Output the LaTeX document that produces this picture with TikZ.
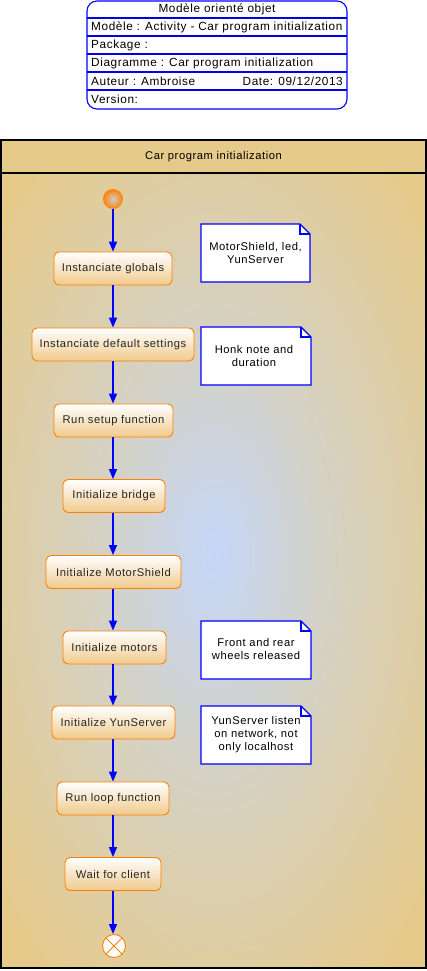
\documentclass[tikz,border=0pt]{standalone}
\usepackage{fontspec}
\setmainfont{Liberation Sans}[LetterSpace=5]
\usetikzlibrary{arrows.meta,shapes.misc}
\definecolor{tanc}{RGB}{230,202,138}
\definecolor{bgblue}{RGB}{196,214,248}
\definecolor{bgmid}{RGB}{212,210,198}
\definecolor{actorange}{RGB}{255,128,0}
\definecolor{actbot}{RGB}{240,202,140}
\definecolor{flowblue}{RGB}{0,0,255}
\definecolor{rowline}{RGB}{0,0,230}
\pgfdeclareradialshading{bgshade}{\pgfpoint{0bp}{1bp}}{color(0bp)=(bgblue); color(13bp)=(bgmid); color(33bp)=(tanc); color(75bp)=(tanc)}
\tikzset{
  act/.style={draw=actorange, line width=0.9pt, rounded corners=5pt, top color=white, bottom color=actbot, minimum height=33pt, inner sep=0pt, font=\fontsize{11.2}{13}\selectfont, text=black!85},
  flow/.style={draw=flowblue, fill=flowblue, line width=1.4pt, -{Triangle[length=10pt,width=8pt]}},
  notetxt/.style={font=\fontsize{11.2}{13}\selectfont, align=center, inner sep=0pt},
  hdr/.style={font=\fontsize{11.8}{13}\selectfont, inner sep=0pt},
}
\newcommand{\notebox}[5]{% name, x1, y1, x2, y2
  \draw[flowblue, fill=white, line width=1.1pt] (#2,#3) -- (#4-10,#3) -- (#4,#3+10) -- (#4,#5) -- (#2,#5) -- cycle;
  \draw[flowblue, line width=1.1pt] (#4-10,#3) -- (#4-10,#3+10) -- (#4,#3+10);
  \coordinate (#1) at ({(#2+#4)/2},{(#3+#5)/2});
}
\begin{document}
\begin{tikzpicture}[x=1pt,y=-1pt]
\useasboundingbox (0,0) rectangle (427,971);
% title block
\draw[flowblue, fill=white, line width=1.1pt, rounded corners=10pt] (87,1) rectangle (347,109);
\foreach \yy in {18,36,54,72,90} \draw[rowline, line width=1.1pt] (87,\yy) -- (347,\yy);
\node[hdr] (t0) at (217,9) {Modèle orienté objet};
\node[hdr, anchor=west] (t1) at (91,27) {Modèle : Activity - Car program initialization};
\node[hdr, anchor=west] (t2) at (91,45) {Package :};
\node[hdr, anchor=west] (t3) at (91,63) {Diagramme : Car program initialization};
\node[hdr, anchor=west] (t4) at (91,81) {Auteur : Ambroise};
\node[hdr, anchor=east] (t5) at (343,81) {Date: 09/12/2013};
\node[hdr, anchor=west] (t6) at (91,99) {Version:};
% frame
\fill[tanc] (1,140) rectangle (426,173);
\shade[shading=bgshade] (1,173) rectangle (426,968);
\draw[black, line width=1.1pt] (1,140) rectangle (426,968);
\draw[black, line width=1.1pt] (1,173) -- (426,173);
\node[font=\fontsize{11.2}{13}\selectfont] (frametitle) at (213.5,157) {Car program initialization};
% start
\shade[inner color=black!20, outer color=actorange] (113,199) circle (10);
\coordinate (start) at (113,209);
% activities
\node[act, minimum width=118pt] (a1) at (113,268.5) {Instanciate globals};
\node[act, minimum width=162pt] (a2) at (113,344.5) {Instanciate default settings};
\node[act, minimum width=119pt] (a3) at (113.5,420.5) {Run setup function};
\node[act, minimum width=102pt] (a4) at (114,496) {Initialize bridge};
\node[act, minimum width=135pt] (a5) at (113.5,572) {Initialize MotorShield};
\node[act, minimum width=103pt] (a6) at (114.5,647.5) {Initialize motors};
\node[act, minimum width=123pt] (a7) at (113.5,722.5) {Initialize YunServer};
\node[act, minimum width=112pt] (a8) at (113,798.5) {Run loop function};
\node[act, minimum width=96pt] (a9) at (113,874) {Wait for client};
% end
\draw[actorange, fill=white, line width=0.9pt] (114,946) circle (11.5);
\draw[actorange, line width=0.9pt] (114,946) ++(45:11.5) -- ++(225:23) (114,946) ++(135:11.5) -- ++(-45:23);
\coordinate (endtop) at (114,934);
% flows
\draw[flow] (start) -- (a1.north -| start);
\draw[flow] (a1.south -| a2) -- (a2.north -| a2);
\draw[flow] (a2.south -| a2) -- (a3.north -| a2);
\draw[flow] (a3.south -| a2) -- (a4.north -| a2);
\draw[flow] (a4.south -| a2) -- (a5.north -| a2);
\draw[flow] (a5.south -| a2) -- (a6.north -| a2);
\draw[flow] (a6.south -| a2) -- (a7.north -| a2);
\draw[flow] (a7.south -| a2) -- (a8.north -| a2);
\draw[flow] (a8.south -| a2) -- (a9.north -| a2);
\draw[flow] (a9.south -| a2) -- (endtop -| a2);
% notes
\notebox{n1}{201}{224}{310}{282}
\node[notetxt] (n1t) at (255.5,253) {MotorShield, led,\\YunServer};
\notebox{n2}{201}{327}{311}{385}
\node[notetxt] (n2t) at (254,356) {Honk note and\\duration};
\notebox{n3}{201}{621}{311}{679}
\node[notetxt] (n3t) at (256,649) {Front and rear\\wheels released};
\notebox{n4}{201}{706}{311}{764}
\node[notetxt] (n4t) at (256,735) {YunServer listen\\on network, not\\only localhost};
\end{tikzpicture}
\end{document}
